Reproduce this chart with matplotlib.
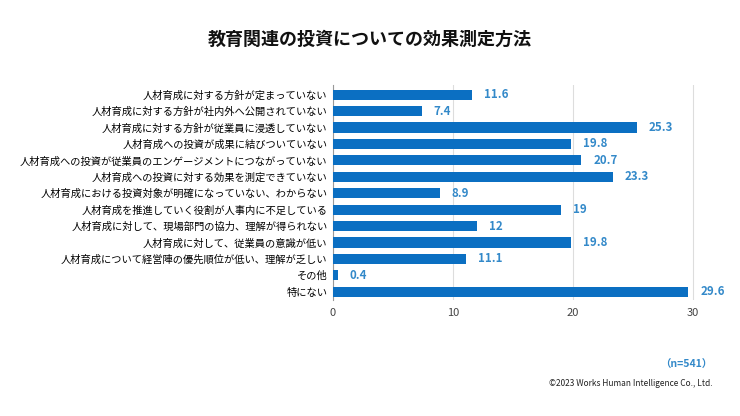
import matplotlib
matplotlib.use("Agg")
import matplotlib.pyplot as plt

plt.rcParams["font.family"] = ["Noto Sans CJK JP", "DejaVu Sans"]

categories = [
    "人材育成に対する方針が定まっていない",
    "人材育成に対する方針が社内外へ公開されていない",
    "人材育成に対する方針が従業員に浸透していない",
    "人材育成への投資が成果に結びついていない",
    "人材育成への投資が従業員のエンゲージメントにつながっていない",
    "人材育成への投資に対する効果を測定できていない",
    "人材育成における投資対象が明確になっていない、わからない",
    "人材育成を推進していく役割が人事内に不足している",
    "人材育成に対して、現場部門の協力、理解が得られない",
    "人材育成に対して、従業員の意識が低い",
    "人材育成について経営陣の優先順位が低い、理解が乏しい",
    "その他",
    "特にない",
]
values = [11.6, 7.4, 25.3, 19.8, 20.7, 23.3, 8.9, 19, 12, 19.8, 11.1, 0.4, 29.6]
value_labels = ["11.6", "7.4", "25.3", "19.8", "20.7", "23.3", "8.9", "19", "12",
                "19.8", "11.1", "0.4", "29.6"]
xticks = [0, 10, 20, 30]

C_BAR = "#0b6fc2"
C_LAB = "#3389c9"

fig = plt.figure(figsize=(7.4, 4.16), dpi=100)
ax = fig.add_axes([0.45, 0.279, 0.519, 0.517])

y = list(range(len(categories)))
ax.barh(y, values, height=0.62, color=C_BAR, zorder=3)
for yi, v, lab in zip(y, values, value_labels):
    ax.text(v + 1.0, yi, lab, va="center", ha="left", fontsize=8.3,
            fontweight="bold", color=C_LAB)

ax.set_yticks(y)
ax.set_yticklabels(categories, fontsize=7.4)
ax.set_ylim(len(categories) - 0.5, -0.6)
ax.set_xlim(0, 32)
ax.set_xticks(xticks)
ax.tick_params(axis="x", length=0, labelsize=8, colors="#444444", pad=6)
ax.tick_params(axis="y", length=0, pad=4)
ax.grid(axis="x", color="#dddddd", lw=0.8, zorder=0)
for s in ("top", "right", "bottom"):
    ax.spines[s].set_visible(False)
ax.spines["left"].set_color("#999999")
ax.spines["left"].set_linewidth(0.8)

fig.text(0.5, 0.905, "教育関連の投資についての効果測定方法", ha="center", va="center",
         fontsize=13, fontweight="bold", color="#111111")
fig.text(0.963, 0.122, "（n=541）", ha="right", va="center", fontsize=7.5,
         fontweight="bold", color=C_LAB)
fig.text(0.963, 0.079, "©2023 Works Human Intelligence Co., Ltd.", ha="right",
         va="center", fontsize=6, color="#222222")

fig.savefig("out.png", dpi=100)
